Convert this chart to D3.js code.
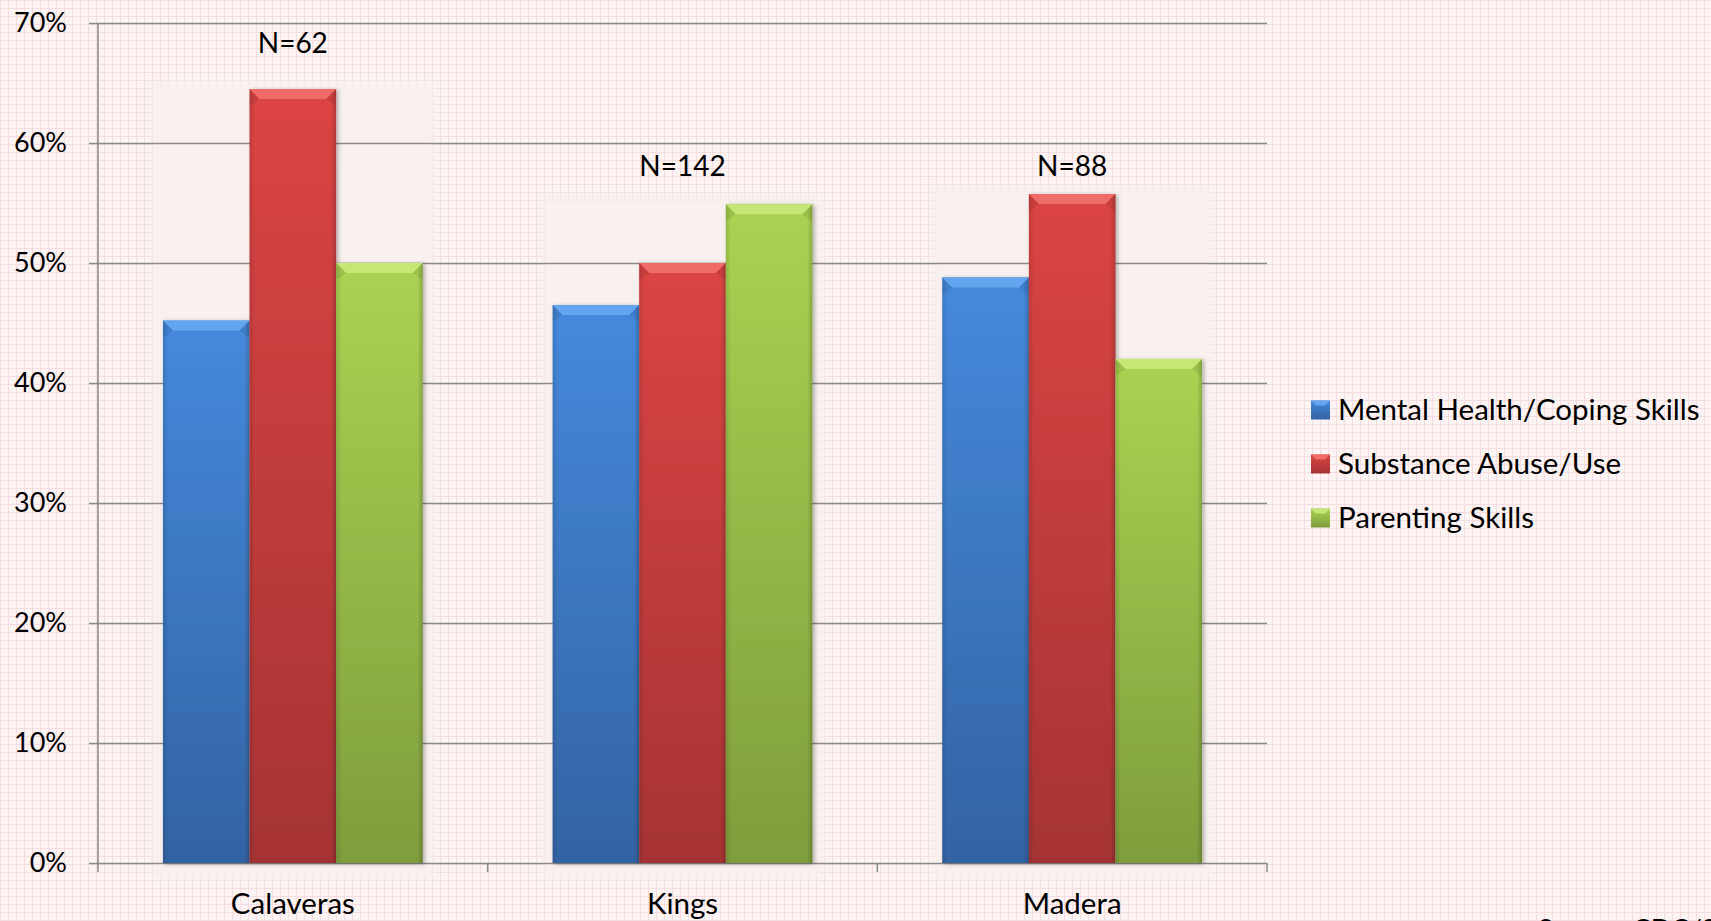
<!DOCTYPE html>
<html>
<head>
<meta charset="utf-8">
<script src="https://cdn.jsdelivr.net/npm/d3@7"></script>
<style>
  html, body { margin: 0; padding: 0; overflow: hidden; background: #fbf0f0; }
  svg { display: block; }
  text { font-family: Lato, "Open Sans", sans-serif; fill: #000; }
</style>
</head>
<body>
<div id="chart"></div>
<script>
// 数据
const categories = ["Calaveras", "Kings", "Madera"];
const seriesNames = ["Mental Health/Coping Skills", "Substance Abuse/Use", "Parenting Skills"];
const mentalHealth = [0.452, 0.465, 0.488];
const substanceAbuse = [0.645, 0.50, 0.5575];
const parenting = [0.50, 0.549, 0.42];
const sampleLabels = ["N=62", "N=142", "N=88"];
const sampleLabelLevel = [0.675, 0.5725, 0.5725];
const yTicks = [0, 0.1, 0.2, 0.3, 0.4, 0.5, 0.6, 0.7];
const sourceText = "Source: CDC/SDG";

const W = 1711, H = 921;
const margin = { left: 98, right: 1267, top: 23, bottom: 863 };

const palette = [
  { top: "#4589dc", bottom: "#3363a3", bevel: "#64a6f0" },
  { top: "#dc4444", bottom: "#a53333", bevel: "#f06c68" },
  { top: "#aad352", bottom: "#7f9d3c", bevel: "#c6e674" }
];

const svg = d3.select("#chart").append("svg")
  .attr("width", W).attr("height", H);

const defs = svg.append("defs");

// 背景网格
const pat = defs.append("pattern")
  .attr("id", "grid").attr("width", 8).attr("height", 8)
  .attr("patternUnits", "userSpaceOnUse");
pat.append("rect").attr("width", 8).attr("height", 8).attr("fill", "#fcf3f3");
pat.append("path").attr("d", "M0,0.5H8M0.5,0V8")
  .attr("stroke", "#f3dde0").attr("stroke-width", 1);

defs.append("filter").attr("id", "soft")
  .attr("x", "-10%").attr("y", "-10%").attr("width", "120%").attr("height", "120%")
  .append("feGaussianBlur").attr("stdDeviation", 4);

const shadow = defs.append("filter").attr("id", "shadow")
  .attr("x", "-20%").attr("y", "-5%").attr("width", "140%").attr("height", "110%");
shadow.append("feDropShadow").attr("dx", 2).attr("dy", 1)
  .attr("stdDeviation", 2).attr("flood-color", "#000").attr("flood-opacity", 0.3);

palette.forEach((p, i) => {
  const g = defs.append("linearGradient").attr("id", "bar" + i)
    .attr("x1", 0).attr("y1", 0).attr("x2", 0).attr("y2", 1);
  g.append("stop").attr("offset", "0%").attr("stop-color", p.top);
  g.append("stop").attr("offset", "100%").attr("stop-color", p.bottom);
});

const side = defs.append("linearGradient").attr("id", "side")
  .attr("x1", 0).attr("y1", 0).attr("x2", 1).attr("y2", 0);
side.append("stop").attr("offset", "0%").attr("stop-color", "#000").attr("stop-opacity", 0.12);
side.append("stop").attr("offset", "6%").attr("stop-color", "#000").attr("stop-opacity", 0);
side.append("stop").attr("offset", "94%").attr("stop-color", "#000").attr("stop-opacity", 0);
side.append("stop").attr("offset", "100%").attr("stop-color", "#000").attr("stop-opacity", 0.18);

svg.append("rect").attr("width", W).attr("height", H).attr("fill", "url(#grid)");

// 比例尺
const x0 = d3.scaleBand().domain(categories)
  .range([margin.left, margin.right]).paddingInner(0).paddingOuter(0);
const x1 = d3.scaleBand().domain(d3.range(seriesNames.length))
  .range([0, x0.bandwidth()]).paddingInner(0).paddingOuter(0.75);
const y = d3.scaleLinear().domain([0, 0.7]).range([margin.bottom, margin.top]);

const rows = categories.map((c, i) => ({
  cat: c,
  values: [mentalHealth[i], substanceAbuse[i], parenting[i]],
  label: sampleLabels[i],
  level: sampleLabelLevel[i]
}));

// 组背景面板
svg.append("g").selectAll("rect")
  .data(rows).join("rect")
  .attr("x", d => x0(d.cat) + x1(0) - 10)
  .attr("y", d => y(d3.max(d.values)) - 7)
  .attr("width", x1.bandwidth() * 3 + 20)
  .attr("height", d => margin.bottom - y(d3.max(d.values)) + 22)
  .attr("fill", "#f8f1ef")
  .attr("filter", "url(#soft)");

// 网格线
const gridColor = "#8a8a8a";
svg.append("g")
  .attr("transform", `translate(${margin.left},0)`)
  .call(d3.axisLeft(y).tickValues(yTicks).tickSize(-(margin.right - margin.left)).tickFormat(""))
  .call(g => g.select(".domain").remove())
  .call(g => g.selectAll("line").attr("stroke", gridColor).attr("stroke-width", 1.5));

// 柱子
const bars = svg.append("g").selectAll("g")
  .data(rows).join("g")
  .attr("transform", d => `translate(${x0(d.cat)},0)`)
  .selectAll("g")
  .data(d => d.values.map((v, i) => ({ v, i })))
  .join("g")
  .attr("filter", "url(#shadow)");

const bevel = 10;
bars.append("rect")
  .attr("x", d => x1(d.i)).attr("y", d => y(d.v))
  .attr("width", x1.bandwidth()).attr("height", d => y(0) - y(d.v))
  .attr("fill", d => `url(#bar${d.i})`);
bars.append("rect")
  .attr("x", d => x1(d.i)).attr("y", d => y(d.v))
  .attr("width", x1.bandwidth()).attr("height", d => y(0) - y(d.v))
  .attr("fill", "url(#side)");
bars.append("path")
  .attr("d", d => {
    const bx = x1(d.i), by = y(d.v), bw = x1.bandwidth();
    return `M${bx},${by}H${bx + bw}L${bx + bw - bevel},${by + bevel}H${bx + bevel}Z`;
  })
  .attr("fill", d => palette[d.i].bevel);
bars.append("path")
  .attr("d", d => {
    const bx = x1(d.i), by = y(d.v), bw = x1.bandwidth();
    return `M${bx},${by}L${bx + bevel},${by + bevel}L${bx + 2},${by + bevel + 6}L${bx},${by + bevel + 6}Z` +
      `M${bx + bw},${by}L${bx + bw - bevel},${by + bevel}L${bx + bw - 2},${by + bevel + 6}L${bx + bw},${by + bevel + 6}Z`;
  })
  .attr("fill", "#000").attr("fill-opacity", 0.08);

// 轴
const yAxis = svg.append("g")
  .attr("transform", `translate(${margin.left},0)`)
  .call(d3.axisLeft(y).tickValues(yTicks).tickSize(9).tickPadding(22)
    .tickFormat(d3.format(".0%")));
yAxis.select(".domain").attr("stroke", gridColor).attr("stroke-width", 1.5)
  .attr("d", `M0,${margin.top}V${margin.bottom}`);
yAxis.selectAll("line").attr("stroke", gridColor).attr("stroke-width", 1.5);
yAxis.selectAll("text").attr("font-size", 27).attr("font-family", "Lato").attr("fill", "#000");

const xAxis = svg.append("g")
  .attr("transform", `translate(0,${margin.bottom})`)
  .call(d3.axisBottom(x0).tickSize(0).tickPadding(30));
xAxis.select(".domain").remove();
xAxis.selectAll("text").attr("font-size", 29.5).attr("font-family", "Lato").attr("fill", "#000");

const bounds = categories.map(c => x0(c)).concat([x0(categories[categories.length - 1]) + x0.step()]);
xAxis.selectAll(".bound").data(bounds).join("line")
  .attr("class", "bound")
  .attr("x1", d => d).attr("x2", d => d)
  .attr("y1", 0).attr("y2", 9)
  .attr("stroke", gridColor).attr("stroke-width", 1.5);

// N 标签
svg.append("g").selectAll("text")
  .data(rows).join("text")
  .attr("x", d => x0(d.cat) + x0.bandwidth() / 2)
  .attr("y", d => y(d.level))
  .attr("text-anchor", "middle")
  .attr("font-size", 28)
  .text(d => d.label);

// 图例
const legend = svg.append("g").attr("transform", "translate(1311,410)");
const items = legend.selectAll("g")
  .data(seriesNames).join("g")
  .attr("transform", (d, i) => `translate(0,${i * 54})`);
items.append("rect")
  .attr("x", 0).attr("y", -9.5).attr("width", 19).attr("height", 19)
  .attr("fill", (d, i) => `url(#bar${i})`);
items.append("path")
  .attr("d", "M0,-9.5H19L14,-4.5H5Z")
  .attr("fill", (d, i) => palette[i].bevel);
items.append("text")
  .attr("x", 27).attr("y", 0).attr("dy", "0.35em")
  .attr("font-size", 29.5)
  .text(d => d);

// 来源
svg.append("text")
  .attr("x", 1538).attr("y", 939)
  .attr("font-size", 27)
  .text(sourceText);
</script>
</body>
</html>
